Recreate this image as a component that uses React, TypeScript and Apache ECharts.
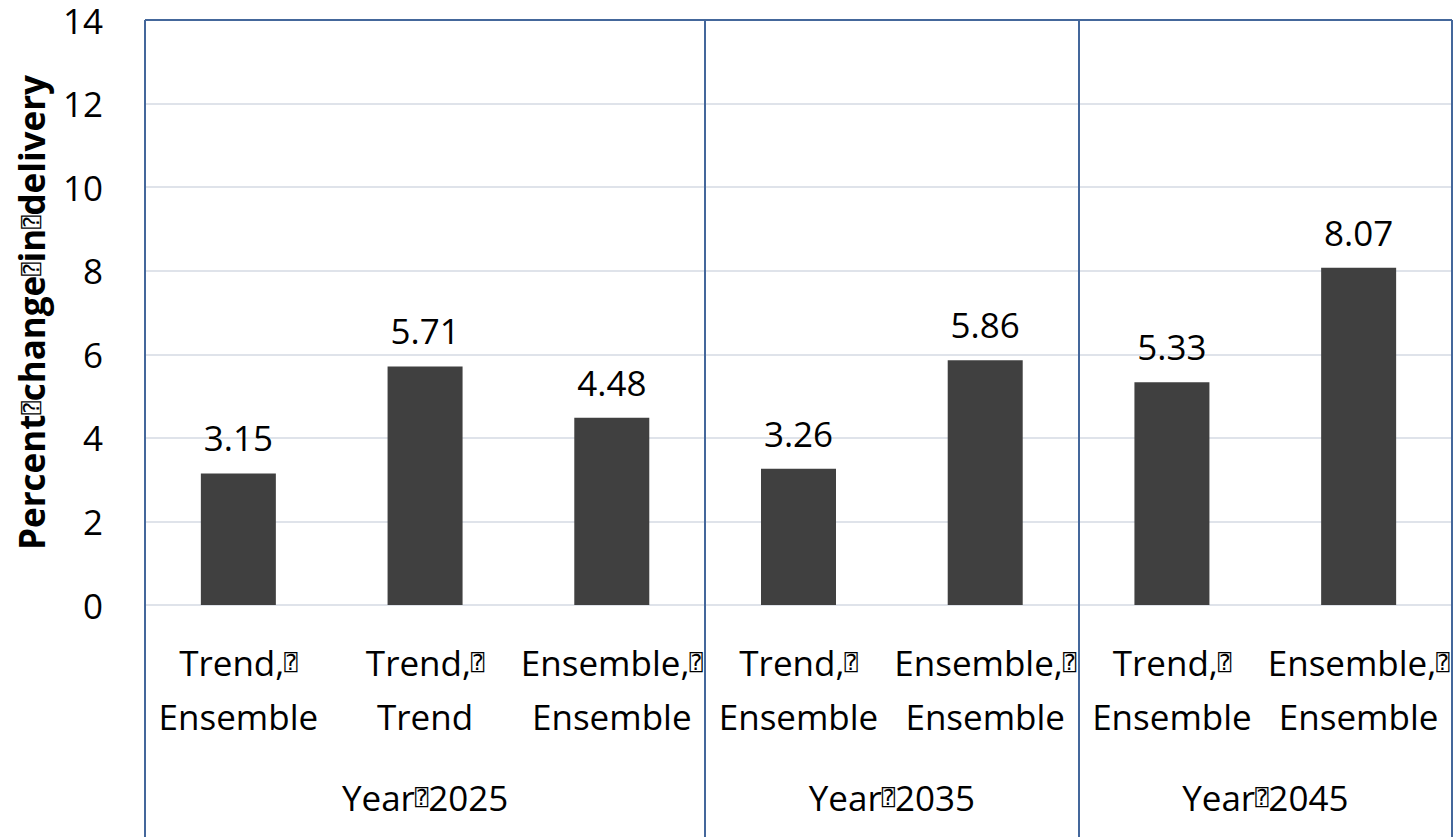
import React, { useEffect, useRef } from "react";
import * as echarts from "echarts";

const categories = [
  "Trend, Ensemble",
  "Trend, Trend",
  "Ensemble, Ensemble",
  "Trend, Ensemble",
  "Ensemble, Ensemble",
  "Trend, Ensemble",
  "Ensemble, Ensemble",
];
const values = [3.15, 5.71, 4.48, 3.26, 5.86, 5.33, 8.07];
const groupLabels = ["Year 2025", "Year 2035", "Year 2045"];
const groupSpans = [3, 2, 2];
const yMin = 0;
const yMax = 14;
const yInterval = 2;
const yAxisTitle = "Percent change in delivery";

const FONT = "'Open Sans', 'Noto Sans', sans-serif";
const BLUE = "#44679b";
const GRID_GRAY = "#dfe3ea";
const BOX = "{q|\u2370}";

const boxed = (s: string) => s.split(" ").join(BOX);

export default function App() {
  const ref = useRef<HTMLDivElement>(null);

  useEffect(() => {
    if (!ref.current) return;
    const chart = echarts.init(ref.current, undefined, { renderer: "svg" });

    const starts: number[] = [];
    let acc = 0;
    groupSpans.forEach((s) => {
      starts.push(acc);
      acc += s;
    });
    const boundaries = [...starts, acc];
    const centersHalf = starts.map((s, i) => s * 2 + groupSpans[i]);

    const nSplit = Math.round((yMax - yMin) / yInterval) + 1;
    const splitColors = Array.from({ length: nSplit }, (_, i) =>
      i === nSplit - 1 ? BLUE : GRID_GRAY
    );

    const boxStyle = {
      fontFamily: "'DejaVu Sans Mono', 'DejaVu Sans', monospace",
      fontSize: 22,
      fontWeight: "normal",
      color: "#000",
    };

    chart.setOption({
      animation: false,
      backgroundColor: "#ffffff",
      grid: { left: 145, top: 20, width: 1309, bottom: 232, containLabel: false },
      xAxis: [
        {
          type: "category",
          data: categories,
          position: "bottom",
          axisLine: { show: false },
          axisTick: {
            show: true,
            interval: (i: number) => boundaries.includes(i),
            length: 232,
            lineStyle: { color: BLUE, width: 2 },
          },
          splitLine: {
            show: true,
            interval: (i: number) => boundaries.includes(i),
            lineStyle: { color: BLUE, width: 2 },
          },
          axisLabel: {
            interval: 0,
            margin: 30,
            fontFamily: FONT,
            fontSize: 35,
            color: "#000",
            lineHeight: 54,
            formatter: (v: string) => {
              const [a, b] = v.split(", ");
              return `${a},${BOX}\n${b}`;
            },
            rich: {
              q: { ...boxStyle, lineHeight: 54 },
            },
          },
        },
        {
          type: "value",
          position: "bottom",
          min: 0,
          max: acc * 2,
          interval: 1,
          axisLine: { show: false },
          axisTick: { show: false },
          splitLine: { show: false },
          axisLabel: {
            margin: 172,
            fontFamily: FONT,
            fontSize: 35,
            color: "#000",
            lineHeight: 40,
            formatter: (v: number) => {
              const k = centersHalf.indexOf(Math.round(v));
              return k >= 0 ? boxed(groupLabels[k]) : "";
            },
            rich: { q: { ...boxStyle, lineHeight: 40 } },
          },
        },
      ],
      yAxis: {
        type: "value",
        min: yMin,
        max: yMax,
        interval: yInterval,
        name: boxed(yAxisTitle),
        nameLocation: "middle",
        nameRotate: 90,
        nameGap: 96,
        nameTextStyle: {
          fontFamily: FONT,
          fontSize: 35,
          fontWeight: "bold",
          color: "#000",
          rich: { q: { ...boxStyle } },
        },
        axisLine: { show: false },
        axisTick: { show: false },
        axisLabel: {
          margin: 42,
          fontFamily: FONT,
          fontSize: 35,
          lineHeight: 36,
          color: "#000",
        },
        splitLine: {
          show: true,
          lineStyle: { color: splitColors, width: 2 },
        },
      },
      series: [
        {
          type: "bar",
          data: values,
          barWidth: 75,
          itemStyle: { color: "#404040" },
          label: {
            show: true,
            position: "top",
            distance: 18,
            fontFamily: FONT,
            fontSize: 35,
            color: "#000",
            formatter: (p: any) => Number(p.value).toFixed(2),
          },
        },
      ],
    });

    return () => chart.dispose();
  }, []);

  return (
    <div
      ref={ref}
      style={{ position: "fixed", left: 0, top: 0, width: 1455, height: 837 }}
    />
  );
}
